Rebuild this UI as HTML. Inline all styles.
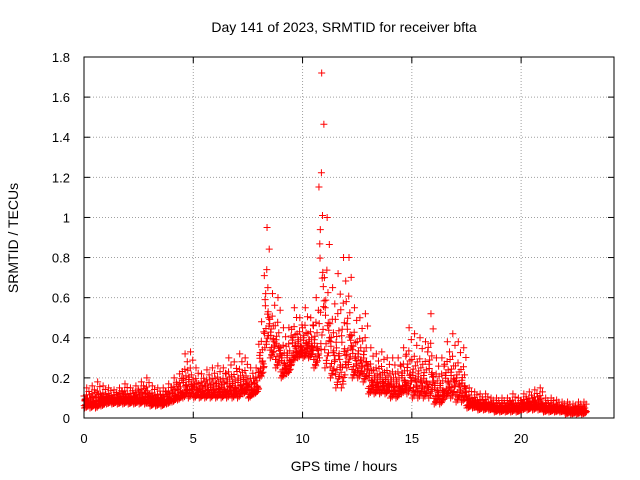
<!DOCTYPE html>
<html><head><meta charset="utf-8"><style>
body{margin:0;background:#fff}
svg{display:block;font-family:"Liberation Sans",sans-serif}
</style></head><body>
<svg id="chart" width="640" height="480" viewBox="0 0 640 480">
<rect width="640" height="480" fill="#fff"/>
<text x="344" y="32" font-size="14" text-anchor="middle">Day 141 of 2023, SRMTID for receiver bfta</text>
<text transform="translate(18,238) rotate(-90)" font-size="14" text-anchor="middle">SRMTID / TECUs</text>
<text x="344" y="471" font-size="14" text-anchor="middle">GPS time / hours</text>
<g id="grid"></g><g id="ticks"></g><g id="pts"></g>
<rect x="84" y="57" width="530" height="361" fill="none" stroke="#000" stroke-width="1"/>
</svg>
<script>
const xTicks=[0,5,10,15,20];
const yTicks=[0,0.2,0.4,0.6,0.8,1,1.2,1.4,1.6,1.8];
const yTickLabels=["0","0.2","0.4","0.6","0.8","1","1.2","1.4","1.6","1.8"];
const binStart=0, binWidth=0.25;
const binMin=[0.05,0.05,0.05,0.06,0.07,0.07,0.07,0.07,0.07,0.07,0.07,0.07,0.06,0.06,0.06,0.07,0.08,0.09,0.1,0.1,0.1,0.1,0.1,0.1,0.1,0.1,0.1,0.1,0.1,0.12,0.1,0.12,0.2,0.35,0.3,0.25,0.2,0.22,0.28,0.3,0.3,0.3,0.25,0.3,0.25,0.2,0.15,0.15,0.25,0.2,0.2,0.18,0.12,0.12,0.12,0.12,0.1,0.1,0.12,0.12,0.1,0.1,0.1,0.1,0.07,0.07,0.1,0.1,0.08,0.08,0.05,0.05,0.04,0.04,0.04,0.03,0.03,0.03,0.03,0.03,0.04,0.04,0.04,0.04,0.03,0.03,0.03,0.03,0.02,0.02,0.02,0.02];
const binMax=[0.15,0.16,0.18,0.16,0.15,0.14,0.15,0.17,0.15,0.16,0.18,0.2,0.16,0.15,0.15,0.17,0.2,0.22,0.32,0.33,0.25,0.22,0.24,0.25,0.26,0.25,0.3,0.28,0.32,0.3,0.25,0.25,0.48,0.95,0.62,0.6,0.45,0.45,0.55,0.5,0.55,0.5,0.6,1.72,1.0,0.65,0.72,0.8,0.8,0.55,0.5,0.52,0.35,0.32,0.33,0.3,0.3,0.3,0.35,0.45,0.42,0.4,0.38,0.52,0.3,0.3,0.38,0.42,0.38,0.35,0.15,0.13,0.12,0.12,0.1,0.1,0.1,0.1,0.12,0.1,0.12,0.13,0.14,0.15,0.1,0.1,0.09,0.08,0.08,0.07,0.08,0.08];
const X0=84,X1=614,Y0=418,Y1=57,XMAX=24.25,YMAX=1.8;
const xs=v=>X0+(v/XMAX)*(X1-X0);
const ys=v=>Y0-(v/YMAX)*(Y0-Y1);
const NS="http://www.w3.org/2000/svg";
const grid=document.getElementById('grid'),ticks=document.getElementById('ticks'),pts=document.getElementById('pts');
function mk(tag,attrs,parent){const e=document.createElementNS(NS,tag);for(const k in attrs)e.setAttribute(k,attrs[k]);parent.appendChild(e);return e;}
xTicks.forEach(t=>{
  const x=xs(t);
  if(t>0){const g=mk('line',{x1:x,x2:x,y1:Y1,y2:Y0,stroke:'#a0a0a0','stroke-dasharray':'1,2'},grid);
  
  }
  const l=mk('line',{x1:x,x2:x,y1:Y0,y2:Y0-6,stroke:'#000'},ticks);
  
  
  const l2=mk('line',{x1:x,x2:x,y1:Y1,y2:Y1+6,stroke:'#000'},ticks);
  
  
  const tx=mk('text',{x:x,y:443,'font-size':13,'text-anchor':'middle'},ticks);tx.textContent=String(t);
  
  
});
yTicks.forEach((t,i)=>{
  const y=ys(t);
  if(t>0&&t<YMAX){const g=mk('line',{x1:X0,x2:X1,y1:y,y2:y,stroke:'#a0a0a0','stroke-dasharray':'1,2'},grid);
  
  }
  const l=mk('line',{x1:X0,x2:X0+6,y1:y,y2:y,stroke:'#000'},ticks);
  
  
  const l2=mk('line',{x1:X1,x2:X1-6,y1:y,y2:y,stroke:'#000'},ticks);
  
  
  const tx=mk('text',{x:70,y:y+5,'font-size':13,'text-anchor':'end'},ticks);tx.textContent=yTickLabels[i];
  
  
});
const fr=[0,0.08,0.16,0.25,0.35,0.5,0.65,0.82,1,0.12,0.3,0.05,0.2,0.4,0.1,0.03,0.28,0.45,0.18,0.6];
const off=[0.1,0.55,0.3,0.8,0.2,0.65,0.45,0.9,0.5,0.05,0.7,0.35,0.95,0.15,0.75,0.4,0.6,0.25,0.85,0.0];
let d='';
binMin.forEach((mn,i)=>{
  const mx=binMax[i];
  for(let k=0;k<fr.length;k++){
    const x=xs(binStart+i*binWidth+off[k]*binWidth), y=ys(mn+(mx-mn)*fr[k]);
    d+=`M${x-3.5},${y}h7M${x},${y-3.5}v7`;
  }
});
const p=mk('path',{d:d,stroke:'#ff0000','stroke-width':1,fill:'none'},pts);


</script>
</body></html>
